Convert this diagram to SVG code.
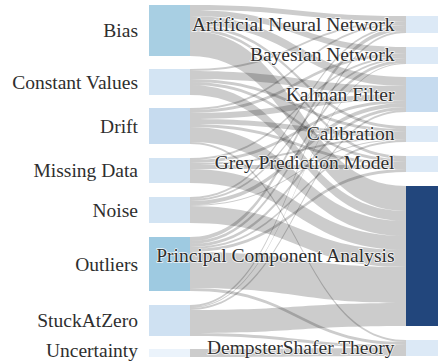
<svg xmlns="http://www.w3.org/2000/svg" width="438" height="364" viewBox="0 0 438 364">
<style>
.lk{fill:#000;fill-opacity:0.2;stroke:none}
.nd{stroke:none}
.lbl{font-family:'Liberation Serif','Times New Roman',serif;font-size:19.5px;fill:#2e2e2e;text-anchor:end}
.halo{stroke:#fff;stroke-width:1.6px;stroke-opacity:0.85;paint-order:stroke fill;stroke-linejoin:round}
</style>
<rect width="438" height="364" fill="#fff"/>
<g id="links">
<path class="lk" d="M190,5C298,5 298,16 406,16L406,21C298,21 298,10 190,10Z"/>
<path class="lk" d="M190,10C298,10 298,47 406,47L406,53C298,53 298,16 190,16Z"/>
<path class="lk" d="M190,16C298,16 298,77 406,77L406,86C298,86 298,25 190,25Z"/>
<path class="lk" d="M190,25C298,25 298,126 406,126L406,129C298,129 298,28 190,28Z"/>
<path class="lk" d="M190,28C298,28 298,156 406,156L406,159C298,159 298,31 190,31Z"/>
<path class="lk" d="M190,31C298,31 298,186 406,186L406,211C298,211 298,56 190,56Z"/>
<path class="lk" d="M190,69C298,69 298,21 406,21L406,23C298,23 298,71 190,71Z"/>
<path class="lk" d="M190,71C298,71 298,86 406,86L406,94C298,94 298,79 190,79Z"/>
<path class="lk" d="M190,79C298,79 298,129 406,129L406,132C298,132 298,82 190,82Z"/>
<path class="lk" d="M190,82C298,82 298,159 406,159L406,162C298,162 298,85 190,85Z"/>
<path class="lk" d="M190,85C298,85 298,211 406,211L406,221C298,221 298,95 190,95Z"/>
<path class="lk" d="M190,108C298,108 298,23 406,23L406,25C298,25 298,110 190,110Z"/>
<path class="lk" d="M190,110C298,110 298,53 406,53L406,56C298,56 298,113 190,113Z"/>
<path class="lk" d="M190,113C298,113 298,94 406,94L406,100C298,100 298,119 190,119Z"/>
<path class="lk" d="M190,119C298,119 298,132 406,132L406,137C298,137 298,124 190,124Z"/>
<path class="lk" d="M190,124C298,124 298,162 406,162L406,165C298,165 298,127 190,127Z"/>
<path class="lk" d="M190,127C298,127 298,221 406,221L406,236C298,236 298,142 190,142Z"/>
<path class="lk" d="M190,142C298,142 298,340 406,340L406,342C298,342 298,144 190,144Z"/>
<path class="lk" d="M190,158C298,158 298,56 406,56L406,58C298,58 298,160 190,160Z"/>
<path class="lk" d="M190,160C298,160 298,100 406,100L406,103C298,103 298,163 190,163Z"/>
<path class="lk" d="M190,163C298,163 298,137 406,137L406,139C298,139 298,165 190,165Z"/>
<path class="lk" d="M190,165C298,165 298,165 406,165L406,169C298,169 298,169 190,169Z"/>
<path class="lk" d="M190,169C298,169 298,236 406,236L406,250C298,250 298,183 190,183Z"/>
<path class="lk" d="M190,197C298,197 298,25 406,25L406,27C298,27 298,199 190,199Z"/>
<path class="lk" d="M190,199C298,199 298,58 406,58L406,60C298,60 298,201 190,201Z"/>
<path class="lk" d="M190,201C298,201 298,103 406,103L406,107C298,107 298,205 190,205Z"/>
<path class="lk" d="M190,205C298,205 298,139 406,139L406,140C298,140 298,206 190,206Z"/>
<path class="lk" d="M190,206C298,206 298,250 406,250L406,267C298,267 298,223 190,223Z"/>
<path class="lk" d="M190,237C298,237 298,27 406,27L406,31C298,31 298,241 190,241Z"/>
<path class="lk" d="M190,241C298,241 298,60 406,60L406,63C298,63 298,244 190,244Z"/>
<path class="lk" d="M190,244C298,244 298,107 406,107L406,110C298,110 298,247 190,247Z"/>
<path class="lk" d="M190,247C298,247 298,140 406,140L406,142C298,142 298,249 190,249Z"/>
<path class="lk" d="M190,249C298,249 298,169 406,169L406,172C298,172 298,252 190,252Z"/>
<path class="lk" d="M190,252C298,252 298,267 406,267L406,303C298,303 298,288 190,288Z"/>
<path class="lk" d="M190,288C298,288 298,342 406,342L406,345C298,345 298,291 190,291Z"/>
<path class="lk" d="M190,305C298,305 298,31 406,31L406,33C298,33 298,307 190,307Z"/>
<path class="lk" d="M190,307C298,307 298,63 406,63L406,64C298,64 298,308 190,308Z"/>
<path class="lk" d="M190,308C298,308 298,110 406,110L406,112C298,112 298,310 190,310Z"/>
<path class="lk" d="M190,310C298,310 298,303 406,303L406,326C298,326 298,333 190,333Z"/>
<path class="lk" d="M190,333C298,333 298,345 406,345L406,348C298,348 298,336 190,336Z"/>
<path class="lk" d="M190,349C298,349 298,348 406,348L406,356C298,356 298,357 190,357Z"/>
</g>
<g id="node-bias"><rect class="nd" x="149" y="5" width="41" height="51" fill="#a8cfe3"/><text class="lbl" x="138" y="37">Bias</text></g>
<g id="node-constant-values"><rect class="nd" x="149" y="69" width="41" height="26" fill="#d3e4f3"/><text class="lbl" x="138" y="88.5">Constant Values</text></g>
<g id="node-drift"><rect class="nd" x="149" y="108" width="41" height="36" fill="#c6dbef"/><text class="lbl" x="138" y="132.5">Drift</text></g>
<g id="node-missing-data"><rect class="nd" x="149" y="158" width="41" height="25" fill="#d3e4f3"/><text class="lbl" x="138" y="177">Missing Data</text></g>
<g id="node-noise"><rect class="nd" x="149" y="197" width="41" height="26" fill="#d3e4f3"/><text class="lbl" x="138" y="216.5">Noise</text></g>
<g id="node-outliers"><rect class="nd" x="149" y="237" width="41" height="54" fill="#9ecae1"/><text class="lbl" x="138" y="271">Outliers</text></g>
<g id="node-stuckatzero"><rect class="nd" x="149" y="305" width="41" height="31" fill="#cfe1f2"/><text class="lbl" x="138" y="326.5">StuckAtZero</text></g>
<g id="node-uncertainty"><rect class="nd" x="149" y="349" width="41" height="8" fill="#ebf3fb"/><text class="lbl" x="138" y="357">Uncertainty</text></g>
<g id="node-ann"><rect class="nd" x="406" y="16" width="34" height="17" fill="#dce9f6"/><text class="lbl halo" x="394.5" y="31">Artificial Neural Network</text></g>
<g id="node-bayesian"><rect class="nd" x="406" y="47" width="34" height="17" fill="#dce9f6"/><text class="lbl halo" x="394.5" y="61">Bayesian Network</text></g>
<g id="node-kalman"><rect class="nd" x="406" y="77" width="34" height="35" fill="#c6dbef"/><text class="lbl halo" x="394.5" y="101">Kalman Filter</text></g>
<g id="node-calibration"><rect class="nd" x="406" y="126" width="34" height="16" fill="#dce9f6"/><text class="lbl halo" x="394.5" y="140">Calibration</text></g>
<g id="node-grey"><rect class="nd" x="406" y="156" width="34" height="16" fill="#dce9f6"/><text class="lbl halo" x="394.5" y="169">Grey Prediction Model</text></g>
<g id="node-pca"><rect class="nd" x="406" y="186" width="34" height="140" fill="#22467c"/><text class="lbl halo" x="394.5" y="262">Principal Component Analysis</text></g>
<g id="node-dempstershafer"><rect class="nd" x="406" y="340" width="34" height="16" fill="#dce9f6"/><text class="lbl halo" x="394.5" y="353.5">DempsterShafer Theory</text></g>
</svg>
